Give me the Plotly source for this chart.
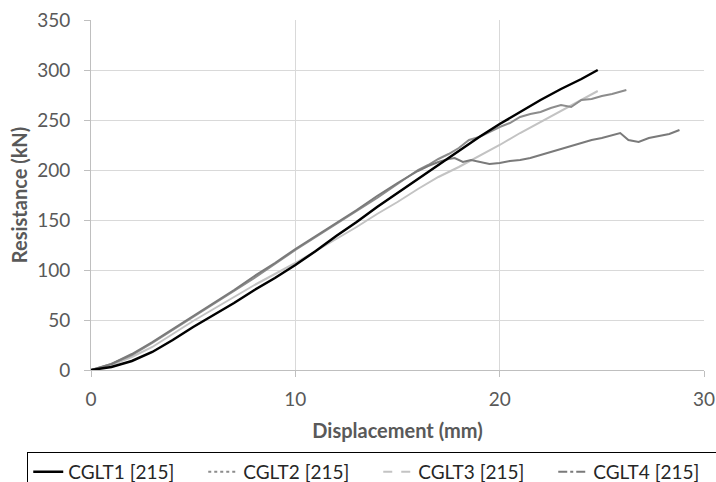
import plotly.graph_objects as go

# ---- data ----
x1 = [0, 1, 2, 3, 4, 5, 6, 7, 8, 9, 10, 11, 12, 13, 14, 15, 16, 17, 18, 19, 20, 21, 22, 23, 24, 24.8]
y1 = [0, 3, 9, 18, 30, 43, 55, 67, 80, 92, 105, 119, 134, 148, 163, 177, 191, 205, 219, 233, 246, 258, 270, 281, 291, 300]

x2 = [0, 1, 2, 3, 4, 5, 6, 7, 8, 9, 10, 11, 12, 13, 14, 15, 16, 16.5, 17, 17.5, 18, 18.5, 19, 19.5, 20, 20.5, 21, 21.5, 22, 22.5, 23, 23.5, 24, 24.5, 25, 25.5, 26.2]
y2 = [0, 6, 15, 27, 40, 53, 66, 79, 92, 106, 120, 133, 146, 159, 172, 186, 200, 205, 211, 216, 222, 230, 233, 238, 243, 247, 253, 256, 258, 262, 265, 263, 270, 271, 274, 276, 280]

x3 = [0, 1, 2, 3, 4, 5, 6, 7, 8, 9, 10, 11, 12, 13, 14, 15, 16, 17, 18, 19, 20, 21, 22, 23, 24, 24.8]
y3 = [0, 5, 13, 23, 36, 49, 61, 73, 85, 96, 107, 119, 131, 143, 156, 168, 181, 193, 203, 214, 225, 237, 248, 259, 270, 279]

x4 = [0, 1, 2, 3, 4, 5, 6, 7, 8, 9, 10, 11, 12, 13, 14, 15, 16, 16.5, 17, 17.5, 17.8, 18.2, 18.6, 19, 19.5, 20, 20.5, 21, 21.5, 22, 22.5, 23, 23.5, 24, 24.5, 25, 25.5, 25.9, 26.3, 26.8, 27.3, 27.8, 28.3, 28.8]
y4 = [0, 6, 16, 28, 41, 54, 67, 80, 94, 107, 121, 134, 147, 160, 174, 187, 199, 204, 208, 211, 212, 208, 210, 208, 206, 207, 209, 210, 212, 215, 218, 221, 224, 227, 230, 232, 235, 237, 230, 228, 232, 234, 236, 240]

names = ["CGLT1 [215]", "CGLT2 [215]", "CGLT3 [215]", "CGLT4 [215]"]
colors = ["#000000", "#8c8c8c", "#c3c3c3", "#7a7a7a"]
dashes = ["solid", "dot", "dash", "dashdot"]
widths = [2.5, 2, 2, 2]

fig = go.Figure()
series = [(x1, y1), (x2, y2), (x3, y3), (x4, y4)]
order = [2, 1, 3, 0]
for i in order:
    xs, ys = series[i]
    fig.add_trace(go.Scatter(x=xs, y=ys, mode="lines", showlegend=False,
                             line=dict(color=colors[i], width=widths[i])))
for i in range(4):
    fig.add_trace(go.Scatter(x=[None], y=[None], mode="lines", name=names[i],
                             line=dict(color=colors[i], width=widths[i], dash=dashes[i])))

fig.update_layout(
    width=716, height=482,
    margin=dict(l=91, r=12, t=20, b=112, autoexpand=False),
    paper_bgcolor="white", plot_bgcolor="white",
    font=dict(family="Lato, Noto Sans, sans-serif", color="#595959", size=19),
    xaxis=dict(range=[0, 30], dtick=10, showgrid=True, gridcolor="#d9d9d9", gridwidth=1,
               showline=True, linecolor="#bfbfbf", linewidth=1, ticks="outside",
               tickcolor="#bfbfbf", ticklen=6, zeroline=False, ticklabelstandoff=6,
               tickfont=dict(size=19, color="#595959"),
               title=dict(text="<b>Displacement (mm)</b>", font=dict(size=20, color="#595959"), standoff=15)),
    yaxis=dict(range=[0, 350], dtick=50, showgrid=True, gridcolor="#d9d9d9", gridwidth=1,
               showline=True, linecolor="#bfbfbf", linewidth=1, ticks="outside",
               tickcolor="#bfbfbf", ticklen=6, zeroline=False, ticklabelstandoff=10,
               tickfont=dict(size=19, color="#595959"),
               title=dict(text="<b>Resistance (kN)</b>", font=dict(size=20, color="#595959"), standoff=4)),
    legend=dict(orientation="h", x=-0.104, xanchor="left", y=-0.234, yanchor="top",
                bordercolor="#000000", borderwidth=1, bgcolor="white",
                font=dict(size=19, color="#262626"), entrywidth=130, entrywidthmode="pixels",
                tracegroupgap=0),
)

fig.write_html("out.html")
